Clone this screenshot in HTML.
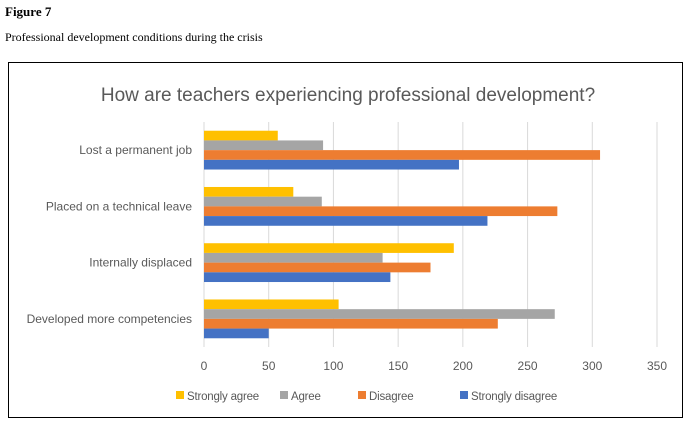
<!DOCTYPE html>
<html><head><meta charset="utf-8"><style>
body{margin:0;width:692px;height:426px;background:#fff;position:relative;overflow:hidden;font-family:"Liberation Serif",serif}
.fig{position:absolute;left:5px;top:4px;font-weight:bold;font-size:13px}
.sub{position:absolute;left:5px;top:30px;font-size:12px}
.box{position:absolute;left:8px;top:62px;width:675px;height:356px;border:1px solid #000;box-sizing:border-box}
svg{position:absolute;left:0;top:0}
</style></head><body>
<div class="fig">Figure 7</div>
<div class="sub">Professional development conditions during the crisis</div>
<div class="box"></div>
<svg id="c" width="692" height="426"></svg>
<script>
const categories=["Lost a permanent job","Placed on a technical leave","Internally displaced","Developed more competencies"];
const stronglyAgree=[57,69,193,104];
const agree=[92,91,138,271];
const disagree=[306,273,175,227];
const stronglyDisagree=[197,219,144,50];
const ticks=[0,50,100,150,200,250,300,350];
const seriesNames=["Strongly agree","Agree","Disagree","Strongly disagree"];
const colors=["#FFC000","#A5A5A5","#ED7D31","#4472C4"];
const NS="http://www.w3.org/2000/svg";
const svg=document.getElementById('c');
const x0=204,x1=657,yTop=122,yBot=347;
const xs=v=>x0+(x1-x0)*v/350;
const bandH=(yBot-yTop)/categories.length;
function mk(t,a){const e=document.createElementNS(NS,t);for(const k in a)e.setAttribute(k,a[k]);svg.appendChild(e);return e;}
let t=mk('text',{x:348,y:101,'text-anchor':'middle','font-size':19,fill:'#595959','font-family':'Liberation Sans, sans-serif'});
t.textContent="How are teachers experiencing professional development?";


ticks.forEach(v=>{
 const l=mk('line',{x1:xs(v),x2:xs(v),y1:yTop,y2:yBot,stroke:'#D9D9D9','stroke-width':1});
 
 
 const tx=mk('text',{x:xs(v),y:370,'text-anchor':'middle','font-size':12,fill:'#595959','font-family':'Liberation Sans, sans-serif'});
 tx.textContent=v;
 
 
});
const series=[stronglyAgree,agree,disagree,stronglyDisagree];
const bh=9.7;
categories.forEach((c,i)=>{
 const cy=yTop+bandH*i+bandH/2;
 const start=cy-bh*2;
 series.forEach((s,j)=>{
  const r=mk('rect',{x:x0,y:start+j*bh,width:xs(s[i])-x0,height:bh,fill:colors[j]});
  
  
 });
 const lt=mk('text',{x:192,y:cy+4,'text-anchor':'end','font-size':12,fill:'#595959','font-family':'Liberation Sans, sans-serif'});
 lt.textContent=c;
 
 
});
const lx=[176,280,358,460];
seriesNames.forEach((n,j)=>{
 const r=mk('rect',{x:lx[j],y:391,width:8,height:8,fill:colors[j]});
 
 
 const tx=mk('text',{x:lx[j]+11,y:400,'font-size':11.5,'letter-spacing':-0.2,fill:'#595959','font-family':'Liberation Sans, sans-serif'});
 tx.textContent=n;
 
 
});
</script>
</body></html>
